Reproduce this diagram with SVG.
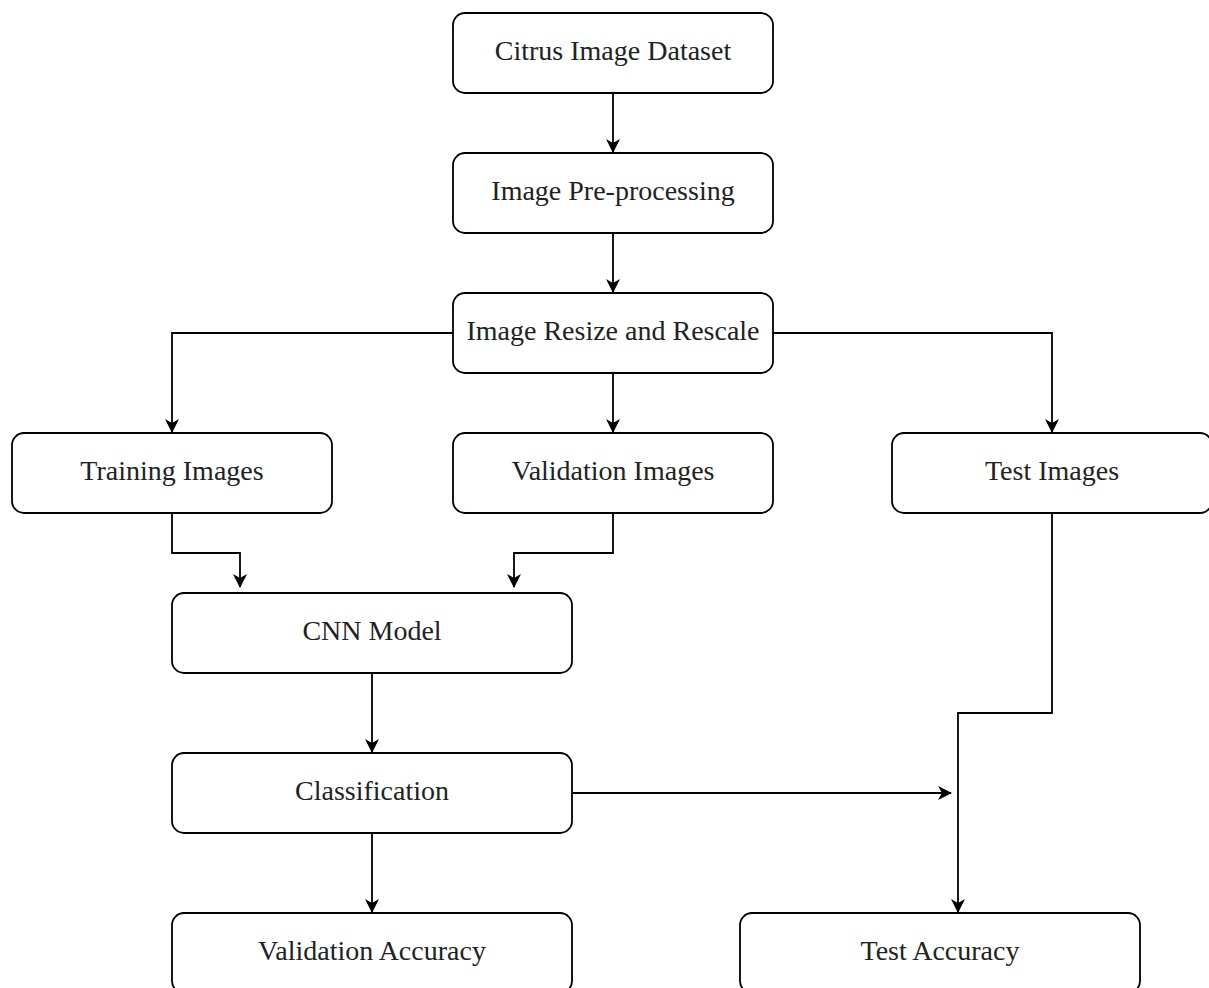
<svg xmlns="http://www.w3.org/2000/svg" width="1209" height="988" viewBox="0 0 1209 988">
<style>
.box{fill:#fff;stroke:#000;stroke-width:1.8}
.lbl{font-family:"Liberation Serif","Times New Roman",serif;font-size:28px;fill:#222;text-anchor:middle}
.edge{fill:none;stroke:#000;stroke-width:1.8}
</style>
<defs>
<marker id="ah" markerWidth="14" markerHeight="14" refX="13" refY="7" orient="auto" markerUnits="userSpaceOnUse" viewBox="0 0 14 14">
<path d="M0,0 L14,7 L0,14 L4,7 Z" fill="#000"/>
</marker>
</defs>
<rect width="1209" height="988" fill="#fff"/>
<g id="connectors">
<path class="edge" d="M613,93 V152" marker-end="url(#ah)"/>
<path class="edge" d="M613,233 V292" marker-end="url(#ah)"/>
<path class="edge" d="M453,333 H172 V432" marker-end="url(#ah)"/>
<path class="edge" d="M613,373 V432" marker-end="url(#ah)"/>
<path class="edge" d="M773,333 H1052 V432" marker-end="url(#ah)"/>
<path class="edge" d="M172,513 V553 H240 V587" marker-end="url(#ah)"/>
<path class="edge" d="M613,513 V553 H514 V587" marker-end="url(#ah)"/>
<path class="edge" d="M372,673 V752" marker-end="url(#ah)"/>
<path class="edge" d="M572,793 H951" marker-end="url(#ah)"/>
<path class="edge" d="M372,833 V912" marker-end="url(#ah)"/>
<path class="edge" d="M1052,513 V713 H958 V912" marker-end="url(#ah)"/>
</g>
<g id="n1"><rect class="box" x="453" y="13" width="320" height="80" rx="12"/><text class="lbl" x="613" y="60">Citrus Image Dataset</text></g>
<g id="n2"><rect class="box" x="453" y="153" width="320" height="80" rx="12"/><text class="lbl" x="613" y="200">Image Pre-processing</text></g>
<g id="n3"><rect class="box" x="453" y="293" width="320" height="80" rx="12"/><text class="lbl" x="613" y="340">Image Resize and Rescale</text></g>
<g id="n4"><rect class="box" x="12" y="433" width="320" height="80" rx="12"/><text class="lbl" x="172" y="480">Training Images</text></g>
<g id="n5"><rect class="box" x="453" y="433" width="320" height="80" rx="12"/><text class="lbl" x="613" y="480">Validation Images</text></g>
<g id="n6"><rect class="box" x="892" y="433" width="320" height="80" rx="12"/><text class="lbl" x="1052" y="480">Test Images</text></g>
<g id="n7"><rect class="box" x="172" y="593" width="400" height="80" rx="12"/><text class="lbl" x="372" y="640">CNN Model</text></g>
<g id="n8"><rect class="box" x="172" y="753" width="400" height="80" rx="12"/><text class="lbl" x="372" y="800">Classification</text></g>
<g id="n9"><rect class="box" x="172" y="913" width="400" height="80" rx="12"/><text class="lbl" x="372" y="960">Validation Accuracy</text></g>
<g id="n10"><rect class="box" x="740" y="913" width="400" height="80" rx="12"/><text class="lbl" x="940" y="960">Test Accuracy</text></g>
</svg>
